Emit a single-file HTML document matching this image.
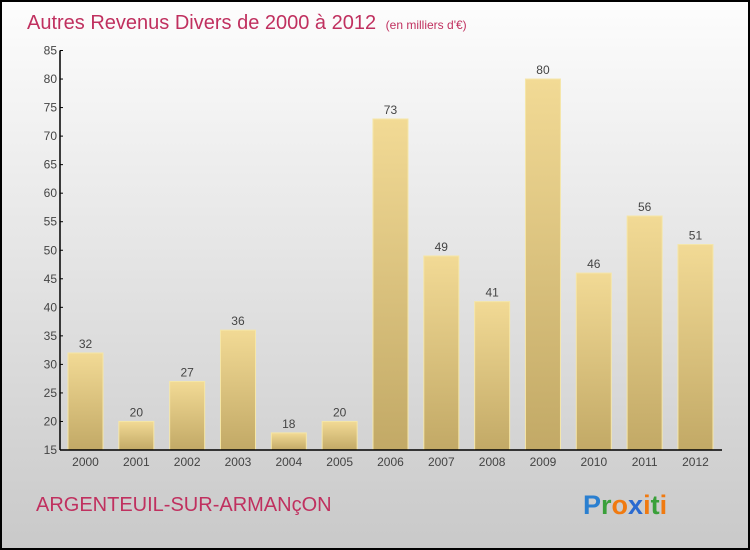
<!DOCTYPE html>
<html><head><meta charset="utf-8"><style>
body{margin:0}
svg{display:block;font-family:"Liberation Sans",sans-serif}
</style></head><body>
<svg id="chart" width="750" height="550">
<defs>
<linearGradient id="bg" x1="0" y1="0" x2="0" y2="1"><stop offset="0" stop-color="#fdfdfd"/><stop offset="1" stop-color="#c9c9c9"/></linearGradient>
<linearGradient id="bar" x1="0" y1="0" x2="0" y2="1"><stop offset="0" stop-color="#f2da95"/><stop offset="1" stop-color="#c2a966"/></linearGradient>
</defs>
<rect x="1" y="1" width="748" height="548" fill="url(#bg)" stroke="#000" stroke-width="2"/>
<text x="27" y="29" font-size="20" fill="#c0305f">Autres Revenus Divers de 2000 à 2012 <tspan font-size="12" dx="4">(en milliers d'€)</tspan></text>
<text x="36" y="511" font-size="20" fill="#c0305f">ARGENTEUIL-SUR-ARMANçON</text>
<text x="583" y="514" font-size="27" font-weight="bold"><tspan fill="#2a7fd0">P</tspan><tspan fill="#3aa03a">r</tspan><tspan fill="#f07a10">o</tspan><tspan fill="#2a6ad0">x</tspan><tspan fill="#f07a10">i</tspan><tspan fill="#3aa03a">t</tspan><tspan fill="#f07a10">i</tspan></text>
<g id="plot"></g>
</svg>
<script>
const years=["2000","2001","2002","2003","2004","2005","2006","2007","2008","2009","2010","2011","2012"];
const values=[32,20,27,36,18,20,73,49,41,80,46,56,51];
const yTicks=[15,20,25,30,35,40,45,50,55,60,65,70,75,80,85];
const NS="http://www.w3.org/2000/svg";
const g=document.getElementById('plot');
const x0=60,x1=722,yBot=450,yTop=50.5,vMin=15,vMax=85;
const y=v=>yBot-(v-vMin)/(vMax-vMin)*(yBot-yTop);
const step=50.83,first=85.5,bw=35;
const x=i=>first+i*step;
function mk(t,a){const e=document.createElementNS(NS,t);for(const k in a)e.setAttribute(k,a[k]);g.appendChild(e);return e;}
values.forEach((v,i)=>{
 const r=mk('rect',{x:x(i)-bw/2,y:y(v),width:bw,height:yBot-y(v),fill:'url(#bar)',stroke:'#f5e6a8','stroke-width':1});
 
 
 const t=mk('text',{x:x(i),y:y(v)-5,'text-anchor':'middle','font-size':12,fill:'#444'});
 t.textContent=v;
 
 
 const xl=mk('text',{x:x(i),y:466,'text-anchor':'middle','font-size':12,fill:'#444'});
 xl.textContent=years[i];
 
 
});
yTicks.forEach(v=>{
 mk('line',{x1:x0,x2:x0+3,y1:y(v),y2:y(v),stroke:'#000'});
 const t=mk('text',{x:x0-3,y:y(v)+4,'text-anchor':'end','font-size':12,fill:'#444'});
 t.textContent=v;
 
 
});
const ya=mk('line',{x1:x0,x2:x0,y1:yTop,y2:yBot,stroke:'#000','stroke-width':1.5});


const xa=mk('line',{x1:x0,x2:x1,y1:yBot,y2:yBot,stroke:'#000','stroke-width':1.5});


</script>
</body></html>
